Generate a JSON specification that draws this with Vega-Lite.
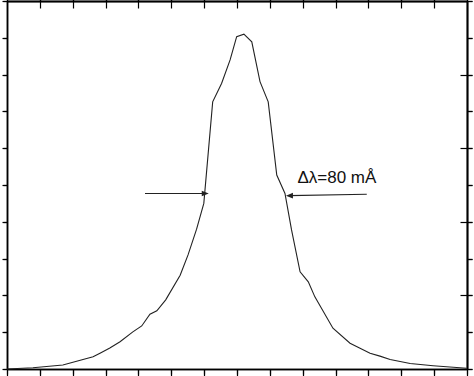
{
  "$schema": "https://vega.github.io/schema/vega-lite/v6.json",
  "autosize": "none",
  "width": 460,
  "height": 368,
  "padding": {"left": 7, "top": 1, "right": 7, "bottom": 7},
  "background": "white",
  "config": {
    "view": {"stroke": null},
    "axis": {"labels": false, "grid": false, "domainColor": "black", "tickColor": "black", "domainWidth": 1.5, "tickWidth": 1.2}
  },
  "datasets": {
    "curve": [
      {"x": 0, "y": 0}, {"x": 0.79, "y": 0.035}, {"x": 1.7, "y": 0.11}, {"x": 2.62, "y": 0.33},
      {"x": 2.83, "y": 0.43}, {"x": 3.13, "y": 0.57}, {"x": 3.44, "y": 0.74}, {"x": 3.83, "y": 1.01},
      {"x": 4.1, "y": 1.17}, {"x": 4.35, "y": 1.49}, {"x": 4.56, "y": 1.58}, {"x": 4.83, "y": 1.88},
      {"x": 5.27, "y": 2.55}, {"x": 5.51, "y": 3.1}, {"x": 5.77, "y": 3.8}, {"x": 5.99, "y": 4.5},
      {"x": 6.26, "y": 7.26}, {"x": 6.53, "y": 7.76}, {"x": 6.79, "y": 8.4}, {"x": 6.99, "y": 9.03},
      {"x": 7.21, "y": 9.1}, {"x": 7.45, "y": 8.89}, {"x": 7.7, "y": 7.81}, {"x": 7.95, "y": 7.26},
      {"x": 8.21, "y": 5.27}, {"x": 8.46, "y": 4.77}, {"x": 8.66, "y": 3.78}, {"x": 8.92, "y": 2.64},
      {"x": 9.17, "y": 2.37}, {"x": 9.37, "y": 1.96}, {"x": 9.92, "y": 1.11}, {"x": 10.44, "y": 0.7},
      {"x": 11.05, "y": 0.43}, {"x": 11.35, "y": 0.35}, {"x": 11.66, "y": 0.26}, {"x": 12.27, "y": 0.15},
      {"x": 12.97, "y": 0.09}, {"x": 13.99, "y": 0.02}
    ],
    "arrows": [
      {"x": 4.2, "y": 4.77, "x2": 6.05, "y2": 4.77},
      {"x": 10.95, "y": 4.75, "x2": 8.58, "y2": 4.71}
    ],
    "headsR": [{"x": 6.14, "y": 4.77}],
    "headsL": [{"x": 8.49, "y": 4.71}],
    "label": [{"x": 10.04, "y": 5.19, "text": "Δλ=80 mÅ"}]
  },
  "layer": [
    {
      "data": {"name": "curve"},
      "mark": {"type": "line", "color": "#222222", "strokeWidth": 1.1},
      "encoding": {
        "x": {"field": "x", "type": "quantitative", "scale": {"domain": [0, 14], "nice": false, "zero": false},
              "axis": {"orient": "bottom", "title": null, "values": [0,1,2,3,4,5,6,7,8,9,10,11,12,13,14], "tickSize": 7}},
        "y": {"field": "y", "type": "quantitative", "scale": {"domain": [0, 10], "nice": false},
              "axis": {"orient": "left", "title": null, "values": [0,1,2,3,4,5,6,7,8,9,10], "tickSize": 4}}
      }
    },
    {
      "data": {"name": "arrows"},
      "mark": {"type": "rule", "color": "#222222", "strokeWidth": 1.1},
      "encoding": {
        "x": {"field": "x", "type": "quantitative",
              "axis": {"orient": "top", "title": null, "values": [1,2,3,4,5,6,7,8,9,10,11,12,13], "tickSize": -7}},
        "y": {"field": "y", "type": "quantitative",
              "axis": {"orient": "right", "title": null, "values": [2,4,6,8], "tickSize": -7}},
        "x2": {"field": "x2"},
        "y2": {"field": "y2"}
      }
    },
    {
      "data": {"name": "headsR"},
      "mark": {"type": "point", "shape": "M0,0L-1,-0.4L-1,0.4Z", "filled": true, "color": "#222222", "size": 196, "opacity": 1},
      "encoding": {
        "x": {"field": "x", "type": "quantitative"},
        "y": {"field": "y", "type": "quantitative"}
      }
    },
    {
      "data": {"name": "headsL"},
      "mark": {"type": "point", "shape": "M0,0L1,-0.4L1,0.4Z", "filled": true, "color": "#222222", "size": 196, "opacity": 1},
      "encoding": {
        "x": {"field": "x", "type": "quantitative"},
        "y": {"field": "y", "type": "quantitative"}
      }
    },
    {
      "data": {"name": "label"},
      "mark": {"type": "text", "font": "Liberation Sans", "fontSize": 17, "color": "#111111", "align": "center", "baseline": "middle"},
      "encoding": {
        "x": {"field": "x", "type": "quantitative"},
        "y": {"field": "y", "type": "quantitative"},
        "text": {"field": "text"}
      }
    }
  ],
  "resolve": {"axis": {"x": "independent", "y": "independent"}}
}
